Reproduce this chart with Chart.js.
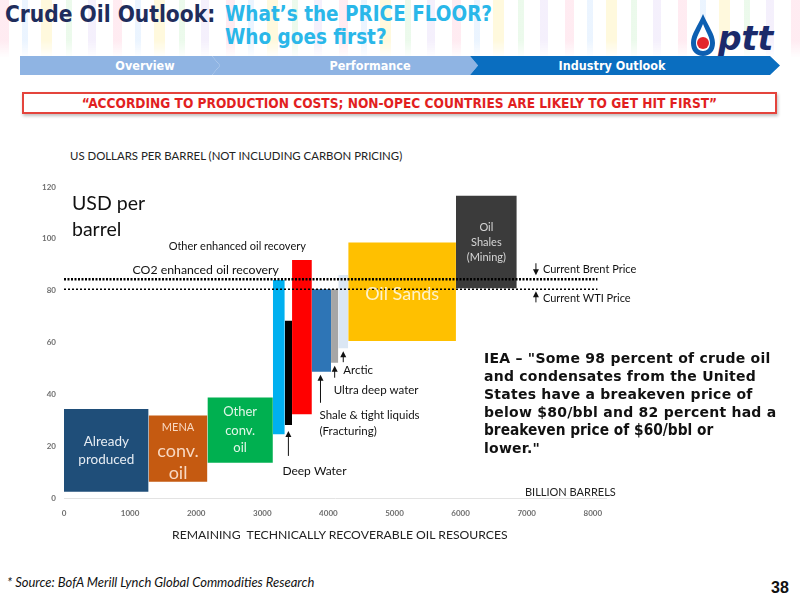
<!DOCTYPE html>
<html lang="en">
<head>
<meta charset="UTF-8">
<title>Crude Oil Outlook</title>
<script src="https://cdn.jsdelivr.net/npm/chart.js"></script>
<style>
  html, body { margin: 0; padding: 0; background: #fff; }
  body { width: 800px; height: 600px; position: relative; overflow: hidden; font-family: Lato, sans-serif; }
  .abs { position: absolute; white-space: nowrap; }
  #stripes {
    position: absolute; left: 0; top: 0; width: 800px; height: 58px;
    background: repeating-linear-gradient(90deg,
      rgba(255,190,210,.30) 0 9px, transparent 9px 22px,
      rgba(190,220,255,.30) 22px 28px, transparent 28px 41px,
      rgba(255,240,170,.40) 41px 52px, transparent 52px 66px,
      rgba(200,240,200,.35) 66px 72px, transparent 72px 88px,
      rgba(220,205,245,.30) 88px 96px, transparent 96px 113px);
    -webkit-mask-image: linear-gradient(180deg, #000 70%, transparent);
  }
  .title { font-family: 'DejaVu Sans Condensed', 'DejaVu Sans', sans-serif; font-weight: bold; line-height: 24px; }
  .nav { position: absolute; top: 56px; height: 19px; color: #fff; font: bold 12.5px/19px 'DejaVu Sans Condensed', 'DejaVu Sans', sans-serif; text-align: center; }
  #chartBox { position: absolute; left: 30px; top: 170px; width: 670px; height: 360px; }
  .iea { font: bold 14px/18px 'DejaVu Sans', Verdana, sans-serif; letter-spacing: 0.25px; color: #111; }
  .iea b { font: bold 15.3px/18px 'DejaVu Sans Condensed', 'DejaVu Sans', sans-serif; letter-spacing: 0; }
</style>
</head>
<body>
<div id="stripes"></div>

<div class="abs title" style="left:5px; top:2px; font-size:22.5px; color:#1f2d5c;">Crude Oil Outlook:</div>
<div class="abs title" style="left:225px; top:2px; font-size:20.5px; color:#2ab7e9;">What’s the PRICE FLOOR?</div>
<div class="abs title" style="left:225px; top:25px; font-size:20.5px; color:#2ab7e9;">Who goes first?</div>

<svg class="abs" style="left:688px; top:12px;" width="104" height="46" viewBox="0 0 104 46">
  <path d="M15 2 C10 14 3 22 3 31 C3 39 8 44 15 44 C22 44 27 39 27 31 C27 22 20 14 15 2 Z" fill="#0d5fb1"/>
  <path d="M15 12 C12 20 8 25 8 31 C8 36 11 39 15 39 C19 39 22 36 22 31 C22 25 18 20 15 12 Z" fill="#fff"/>
  <circle cx="15" cy="31" r="6" fill="#e3262b"/>
  <text x="30" y="38" font-family="'DejaVu Sans', sans-serif" font-weight="bold" font-style="italic" font-size="33" fill="#1b2a6b">ptt</text>
</svg>

<div class="nav" style="left:20px; width:200px; background:#8fb4e3; clip-path:polygon(0 0, 192px 0, 200px 50%, 192px 100%, 0 100%);">
  <span style="position:relative; left:25px;">Overview</span></div>
<div class="nav" style="left:212px; width:266px; background:#8fb4e3; clip-path:polygon(0 0, 258px 0, 266px 50%, 258px 100%, 0 100%, 8px 50%);">
  <span style="position:relative; left:25px;">Performance</span></div>
<div class="nav" style="left:470px; width:310px; background:#0a6ec0; clip-path:polygon(0 0, 300px 0, 310px 50%, 300px 100%, 0 100%, 8px 50%);">
  <span style="position:relative; left:-13px;">Industry Outlook</span></div>

<div class="abs" style="left:22px; top:92px; width:751px; height:18px; border:2px solid #e4443c; box-shadow:1px 2px 3px rgba(0,0,0,.25); text-align:center; color:#e21f1f; font:bold 13.6px/18px 'DejaVu Sans Condensed','DejaVu Sans',sans-serif;">“ACCORDING TO PRODUCTION COSTS; NON-OPEC COUNTRIES ARE LIKELY TO GET HIT FIRST”</div>

<div class="abs" style="left:70px; top:149px; font-size:11.4px; line-height:14px; color:#222;">US DOLLARS PER BARREL (NOT INCLUDING CARBON PRICING)</div>

<div id="chartBox"><canvas id="costCurve"></canvas></div>

<div class="abs" style="left:72px; top:190px; font-size:19.5px; line-height:26px; color:#111;">USD per<br>barrel</div>

<div class="abs" style="left:525px; top:485px; font-size:11px; line-height:14px; color:#222;">BILLION BARRELS</div>
<div class="abs" style="left:172px; top:528px; font-size:12.2px; line-height:14px; color:#222;">REMAINING&nbsp; TECHNICALLY RECOVERABLE OIL RESOURCES</div>

<div class="abs iea" style="left:484px; top:349px;">IEA – "Some 98 percent of crude oil<br>and condensates from the United<br>States have a breakeven price of<br>below $80/bbl and 82 percent had a<br><b>breakeven price of $60/bbl or</b><br>lower."</div>

<div class="abs" style="left:7px; top:575px; font-size:13px; font-style:italic; line-height:14px; color:#111;">* Source: BofA Merill Lynch Global Commodities Research</div>
<div class="abs" style="left:771px; top:579px; font:bold 16px/18px 'Liberation Sans', Arial, sans-serif; color:#111;">38</div>

<script>
// supply cost curve: volume ranges (billion barrels) and cost ranges (USD/bbl)
const segments = ['Already produced', 'MENA conv. oil', 'Other conv. oil', 'CO2 enhanced oil recovery',
  'Deep Water', 'Other enhanced oil recovery', 'Shale & tight liquids', 'Ultra deep water',
  'Arctic', 'Oil Sands', 'Oil Shales (Mining)'];
const volStart = [0, 1280, 2170, 3160, 3340, 3450, 3750, 4040, 4150, 4300, 5930];
const volEnd = [1280, 2170, 3160, 3340, 3450, 3750, 4040, 4150, 4300, 5930, 6850];
const costLow = [2.4, 6.3, 13.6, 24.6, 28.2, 32.3, 48.7, 52.2, 57.8, 60.6, 80.9];
const costHigh = [34.3, 31.8, 38.8, 84.1, 68.4, 91.8, 80.5, 80.5, 86.0, 98.6, 116.6];

const brentPrice = 84.4;
const wtiPrice = 80.5;
const priceLineEnd = 8070;

const xTicks = [0, 1000, 2000, 3000, 4000, 5000, 6000, 7000, 8000];
const yTicks = [0, 20, 40, 60, 80, 100, 120];

const fillColors = ['#1f4e79', '#c55a11', '#00b050', '#00b0f0', '#000000', '#ff0000',
  '#2e75b6', '#a6a6a6', '#dbe7f4', '#ffc000', '#3b3b3b'];

// text drawn inside boxes: [text, font size, offset from box centre]
const boxLabels = [
  { i: 0, color: '#e6ecf3', lines: [['Already', 13.5, -9], ['produced', 13.5, 9]] },
  { i: 1, color: '#f8d8c2', lines: [['MENA', 11, -21], ['conv.', 18, 3], ['oil', 18, 25]] },
  { i: 2, color: '#e2f6e8', lines: [['Other', 13, -18], ['conv.', 13, 1], ['oil', 13, 18]] },
  { i: 9, color: 'rgba(255,255,255,0.8)', lines: [['Oil Sands', 18, 2]] },
  { i: 10, color: '#d6d6d6', lines: [['Oil', 11, -15], ['Shales', 11, 0], ['(Mining)', 11, 15]] }
];

function upArrow(ctx, x, tipY, len) {
  ctx.beginPath();
  ctx.moveTo(x, tipY + 4);
  ctx.lineTo(x, tipY + len);
  ctx.stroke();
  ctx.beginPath();
  ctx.moveTo(x, tipY);
  ctx.lineTo(x - 3, tipY + 6);
  ctx.lineTo(x + 3, tipY + 6);
  ctx.closePath();
  ctx.fill();
}
function downArrow(ctx, x, tipY, len) {
  ctx.beginPath();
  ctx.moveTo(x, tipY - 4);
  ctx.lineTo(x, tipY - len);
  ctx.stroke();
  ctx.beginPath();
  ctx.moveTo(x, tipY);
  ctx.lineTo(x - 3, tipY - 6);
  ctx.lineTo(x + 3, tipY - 6);
  ctx.closePath();
  ctx.fill();
}

const annotations = {
  id: 'annotations',
  afterDatasetsDraw(chart) {
    const ctx = chart.ctx;
    const xs = chart.scales.x, ys = chart.scales.y;
    const px = v => xs.getPixelForValue(v);
    const py = v => ys.getPixelForValue(v);
    const mid = i => px((volStart[i] + volEnd[i]) / 2);
    ctx.save();
    ctx.textBaseline = 'middle';

    boxLabels.forEach(b => {
      const cx = mid(b.i);
      const cy = (py(costLow[b.i]) + py(costHigh[b.i])) / 2;
      ctx.fillStyle = b.color;
      ctx.textAlign = 'center';
      b.lines.forEach(([t, size, dy]) => {
        ctx.font = size + 'px Lato';
        ctx.fillText(t, cx, cy + dy);
      });
    });

    ctx.fillStyle = '#111';
    ctx.strokeStyle = '#111';
    ctx.lineWidth = 1;
    ctx.textAlign = 'left';

    // Deep Water
    let x = mid(4), tip = py(costLow[4]) + 6;
    upArrow(ctx, x, tip, 25);
    ctx.font = '12px Lato';
    ctx.fillText('Deep Water', x - 6, tip + 40);

    // Shale & tight liquids
    x = px(volStart[6] + 0.45 * (volEnd[6] - volStart[6]));
    tip = py(costLow[6]) + 3;
    upArrow(ctx, x, tip, 28);
    ctx.font = '11.5px Lato';
    ctx.fillText('Shale & tight liquids', x - 1, tip + 41);
    ctx.fillText('(Fracturing)', x - 1, tip + 57);

    // Ultra deep water
    x = mid(7); tip = py(costLow[7]) + 3;
    upArrow(ctx, x, tip, 12);
    ctx.fillText('Ultra deep water', x - 1, tip + 25);

    // Arctic
    x = mid(8); tip = py(costLow[8]) + 3;
    upArrow(ctx, x, tip, 11);
    ctx.fillText('Arctic', x, tip + 19);

    // enhanced oil recovery labels above the bars
    ctx.textAlign = 'right';
    ctx.font = '12.3px Lato';
    ctx.fillText('CO2 enhanced oil recovery', px(volStart[3]) + 6, py(costHigh[3]) - 10);
    ctx.font = '11px Lato';
    ctx.fillText('Other enhanced oil recovery', px(volEnd[5]) - 6, py(costHigh[5]) - 14);

    // price markers
    ctx.textAlign = 'left';
    ctx.font = '11px Lato';
    x = px(7140);
    downArrow(ctx, x, py(brentPrice) - 4, 12);
    ctx.fillText('Current Brent Price', x + 7, py(brentPrice) - 10);
    upArrow(ctx, x, py(wtiPrice) + 2, 11);
    ctx.fillText('Current WTI Price', x + 7, py(wtiPrice) + 9);
    ctx.restore();
  }
};

const datasets = segments.map((name, i) => ({
  label: name,
  data: [{ x: volStart[i], y: costHigh[i] }, { x: volEnd[i], y: costHigh[i] }],
  fill: { value: costLow[i] },
  backgroundColor: fillColors[i],
  borderColor: 'transparent',
  borderWidth: 0,
  pointRadius: 0,
  order: 2
}));
datasets.push({
  label: 'Current Brent Price',
  data: [{ x: 0, y: brentPrice }, { x: priceLineEnd, y: brentPrice }],
  borderColor: '#000', borderWidth: 2.5, borderDash: [2, 1.5],
  pointRadius: 0, fill: false, order: 1
});
datasets.push({
  label: 'Current WTI Price',
  data: [{ x: 0, y: wtiPrice }, { x: priceLineEnd, y: wtiPrice }],
  borderColor: '#000', borderWidth: 1.5, borderDash: [2, 2],
  pointRadius: 0, fill: false, order: 1
});

new Chart(document.getElementById('costCurve'), {
  type: 'line',
  data: { datasets },
  options: {
    responsive: true,
    maintainAspectRatio: false,
    animation: false,
    layout: { padding: { top: 17, right: 94, bottom: 0, left: 0 } },
    plugins: { legend: { display: false }, tooltip: { enabled: false } },
    scales: {
      x: {
        type: 'linear', min: 0, max: 8200,
        grid: { display: false, drawTicks: false },
        border: { display: true, color: '#e3e3e3' },
        afterBuildTicks: s => { s.ticks = xTicks.map(v => ({ value: v })); },
        afterFit: s => { s.height = 32; },
        ticks: { padding: 11, color: '#6f6f6f', font: { family: 'Lato', size: 8, weight: 'bold' },
          callback: v => String(v) }
      },
      y: {
        min: 0, max: 120,
        grid: { display: false, drawTicks: false },
        border: { display: false },
        afterBuildTicks: s => { s.ticks = yTicks.map(v => ({ value: v })); },
        afterFit: s => { s.width = 34; },
        ticks: { padding: 8, color: '#6f6f6f', font: { family: 'Lato', size: 8, weight: 'bold' } }
      }
    }
  },
  plugins: [annotations]
});
</script>
</body>
</html>
